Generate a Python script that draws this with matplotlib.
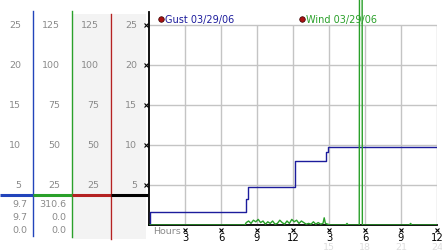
import numpy as np
import matplotlib
matplotlib.use("Agg")
import matplotlib.pyplot as plt
import matplotlib.transforms as mtransforms

# gust (left scale, 0-25) as steps
gust_hours = [0.0, 0.1, 8.08, 8.25, 12.17, 14.75, 14.88, 24.0]
gust_vals = [0.0, 1.6, 3.25, 4.7, 8.0, 9.1, 9.7, 9.7]

# wind (0-125 scale)
wind_hours = [0.0, 8.0, 8.1, 8.3, 8.5, 8.7, 8.9, 9.1, 9.3, 9.5, 9.7, 9.9, 10.1, 10.3,
              10.5, 10.7, 10.9, 11.1, 11.3, 11.5, 11.7, 11.9, 12.1, 12.3, 12.5, 12.7,
              12.9, 13.1, 13.3, 13.5, 13.7, 13.9, 14.1, 14.3, 14.5, 14.6, 14.7, 14.9,
              15.1, 16.4, 16.5, 16.6, 17.52, 17.56, 17.74, 17.78, 21.7, 21.8, 21.9, 24.0]
wind_vals = [0, 0, 1.5, 2.5, 1.0, 3.0, 2.0, 3.5, 1.5, 2.5, 0.5, 2.0, 1.0, 2.5, 0.5, 1.0,
             3.0, 1.5, 0.5, 2.5, 1.0, 3.5, 2.0, 3.0, 1.0, 2.5, 1.5, 0.5, 1.0, 0.5, 2.0,
             0.5, 1.5, 0.5, 1.0, 4.5, 1.0, 0.5, 0, 0, 1.0, 0, 0, 310.6, 310.6, 0, 0,
             1.0, 0, 0]

gust_ticks = [5, 10, 15, 20, 25]
wind_ticks = [25, 50, 75, 100, 125]
hour_ticks = [3, 6, 9, 12, 15, 18, 21, 24]
hour_labels = ["3", "6", "9", "12", "3", "6", "9", "12"]
next_day = {15: "15", 18: "18", 21: "21", 24: "24"}

gust_stats = ["9.7", "9.7", "0.0"]
wind_stats = ["310.6", "0.0", "0.0"]

BLUE = "#2244bb"
GUST = "#1c1c9c"
GREEN = "#2aa02a"
RED = "#b42222"
GRAY = "#8a8a8a"
GRID = "#c4c4c4"

fig = plt.figure(figsize=(4.42, 2.53), dpi=100)
fig.patch.set_facecolor("white")

# pixel overlay for the side panel
ax0 = fig.add_axes([0, 0, 1, 1])
ax0.set_xlim(0, 442)
ax0.set_ylim(253, 0)
ax0.axis("off")

# plot area: x 149..437 px (0..24h), y 226 px = 0, 8 px per unit
ax = fig.add_axes([149 / 442, 27 / 253, 288 / 442, 226 / 253])
ax.set_xlim(0, 24)
ax.set_ylim(0, 226 / 8)
ax.patch.set_alpha(0)
for s in ["top", "right"]:
    ax.spines[s].set_visible(False)
ax.spines["left"].set_bounds(0, (226 - 13) / 8)
ax.spines["left"].set_linewidth(1.3)
ax.spines["bottom"].set_linewidth(1.3)
ax.set_xticks([])
ax.set_yticks([])

# backgrounds of the side columns
ax0.add_patch(plt.Rectangle((72, 15), 39, 225, color="#f3f3f3", lw=0, zorder=0))
ax0.add_patch(plt.Rectangle((113, 15), 33, 225, color="#f3f3f3", lw=0, zorder=0))

# column separators
ax0.plot([33, 33], [12, 237], color=BLUE, lw=1)
ax0.plot([72, 72], [12, 238], color=GREEN, lw=1)
ax0.plot([111, 111], [15, 240], color=RED, lw=1)

# grid
ax.hlines(gust_ticks, 0, 24, color=GRID, lw=1, zorder=1)
ax.vlines(hour_ticks, 0, 25, color=GRID, lw=1, zorder=1)

# scale labels on the side
tr = mtransforms.blended_transform_factory(ax0.transData, ax.transData)
for g, w in zip(gust_ticks, wind_ticks):
    ax0.text(21, g, str(g), transform=tr, ha="right", va="center", fontsize=6.8, color=GRAY)
    ax0.text(60, g, str(w), transform=tr, ha="right", va="center", fontsize=6.8, color=GRAY)
    ax0.text(99, g, str(w), transform=tr, ha="right", va="center", fontsize=6.8, color=GRAY)
    ax0.text(137, g, str(g), transform=tr, ha="right", va="center", fontsize=6.8, color=GRAY)
    ax0.plot(145.5, g, marker="x", ms=2.5, mew=0.8, color="black", transform=tr)

# level line across the side panel
ax0.plot([0, 33], [196, 196], color=BLUE, lw=2.2, solid_capstyle="butt")
ax0.plot([33, 72], [196, 196], color=GREEN, lw=2.2, solid_capstyle="butt")
ax0.plot([72, 111], [196, 196], color=RED, lw=2.2, solid_capstyle="butt")
ax0.plot([111, 148], [196, 196], color="black", lw=2.2, solid_capstyle="butt")

for i, (gs, ws) in enumerate(zip(gust_stats, wind_stats)):
    y = 205 + i * 13
    ax0.text(27, y, gs, ha="right", va="center", fontsize=6.8, color=GRAY)
    ax0.text(66, y, ws, ha="right", va="center", fontsize=6.8, color=GRAY)

# data
ax.plot(gust_hours, gust_vals, drawstyle="steps-post", color=GUST, lw=1, zorder=3)
ax.plot(wind_hours, np.array(wind_vals) / 5.0, color=GREEN, lw=1, zorder=4)

# legend
ax0.plot(161, 20, "o", ms=4, color="#aa1111", mec="#330000", mew=0.5)
ax0.text(165, 20, "Gust 03/29/06", ha="left", va="center", fontsize=7, color=GUST)
ax0.plot(302, 20, "o", ms=4, color="#aa1111", mec="#330000", mew=0.5)
ax0.text(306, 20, "Wind 03/29/06", ha="left", va="center", fontsize=7, color=GREEN)

# hour axis labels
trx = mtransforms.blended_transform_factory(ax.transData, ax0.transData)
ax0.text(153, 232, "Hours", ha="left", va="center", fontsize=6.8, color=GRAY)
for h, lab in zip(hour_ticks, hour_labels):
    ax0.plot(h, 231, marker="x", ms=2.5, mew=0.8, color="black", transform=trx)
    ax0.text(h, 238, lab, transform=trx, ha="center", va="center", fontsize=7.2, color="black")
    if h in next_day:
        ax0.text(h, 247.5, next_day[h], transform=trx, ha="center", va="center",
                 fontsize=6.8, color="#dddddd")

fig.savefig("out.png", dpi=100)
